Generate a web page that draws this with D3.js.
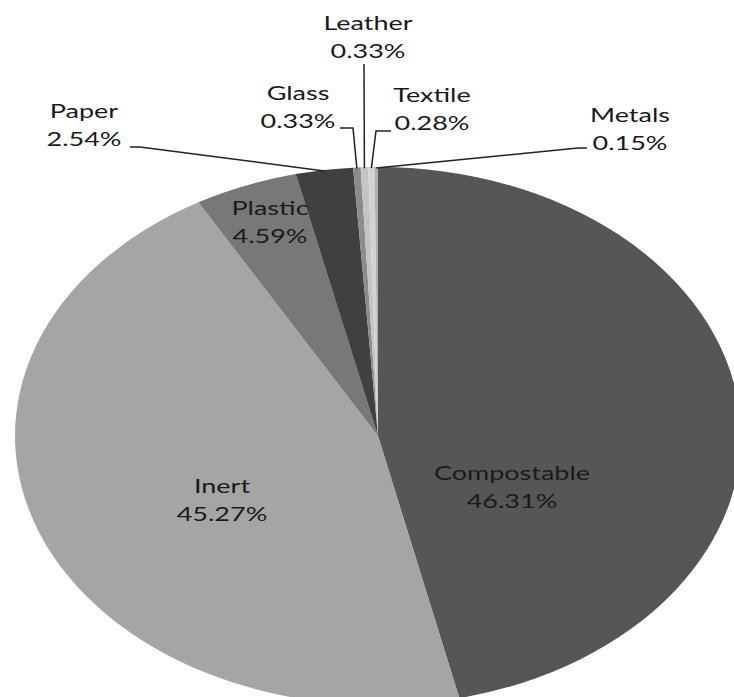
<!DOCTYPE html>
<html>
<head>
<meta charset="utf-8">
<script src="https://cdn.jsdelivr.net/npm/d3@7"></script>
<style>
  body { margin: 0; background: #fff; }
  text { font-family: Lato, "Open Sans", sans-serif; font-size: 20px; fill: #1a1a1a; }
</style>
</head>
<body>
<svg id="chart" width="734" height="697"></svg>
<script>
// waste composition, percent
var categories = ["Compostable", "Inert", "Plastic", "Paper", "Glass", "Leather", "Textile", "Metals"];
var values = [46.31, 45.27, 4.59, 2.54, 0.33, 0.33, 0.28, 0.15];
var labels = ["46.31%", "45.27%", "4.59%", "2.54%", "0.33%", "0.33%", "0.28%", "0.15%"];
var greys = ["#565656", "#a5a5a5", "#787878", "#404040", "#8c8c8c", "#c4c4c4", "#d2d2d2", "#b0b0b0"];

// label centres (first line baseline) and leader start / elbow, page coords
var labelAt = [[512, 480], [222, 493], [270, 215], [84, 118], [298, 100], [368, 30], [432, 102], [630, 122]];
var leaders = [null, null, null,
  [[130, 147], [140, 147]],
  [[340, 128], [353, 128]],
  [[364, 64], [364, 64]],
  [[391, 131], [376, 131]],
  [[587, 148], [578, 148]]];

var cx = 378, cy = 436, ry = 269, rx = 363, sx = rx / ry;

var svg = d3.select("#chart");

var pie = d3.pie().sort(null).value(function(d){ return d; });
var arcs = pie(values);
var arc = d3.arc().innerRadius(0).outerRadius(ry);

svg.append("g")
   .attr("transform", "translate(" + cx + "," + cy + ") scale(" + sx + ",1)")
   .selectAll("path")
   .data(arcs)
   .enter()
   .append("path")
   .attr("d", arc)
   .attr("fill", function(d, i){ return greys[i]; });

// leader lines to the middle of the thin slices
function edgePoint(d){
  var a = (d.startAngle + d.endAngle) / 2;
  return [cx + rx * Math.sin(a), cy - ry * Math.cos(a) + 1];
}

svg.append("g")
   .selectAll("path")
   .data(arcs.filter(function(d, i){ return leaders[i]; }))
   .enter()
   .append("path")
   .attr("d", function(d){
     var l = leaders[d.index], e = edgePoint(d);
     return d3.line()([l[0], l[1], e]);
   })
   .attr("fill", "none")
   .attr("stroke", "#222")
   .attr("stroke-width", 1.5);

var lab = svg.append("g")
   .selectAll("g")
   .data(categories)
   .enter()
   .append("g")
   .attr("transform", function(d, i){
     return "translate(" + labelAt[i][0] + "," + labelAt[i][1] + ") scale(" + sx + ",1)";
   });

lab.append("text")
   .attr("text-anchor", "middle")
   .text(function(d){ return d; });

lab.append("text")
   .attr("text-anchor", "middle")
   .attr("y", 28)
   .text(function(d, i){ return labels[i]; });
</script>
</body>
</html>
